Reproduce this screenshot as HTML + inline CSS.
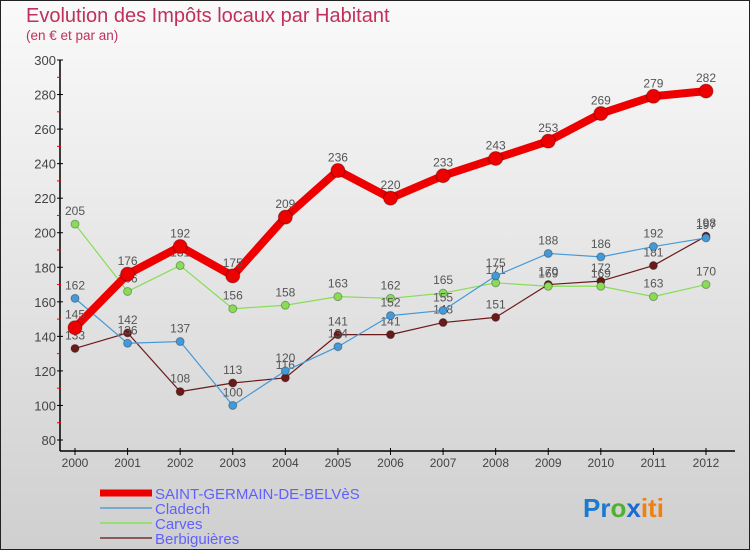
<!DOCTYPE html>
<html><head><meta charset="utf-8"><style>
body{margin:0;}
#wrap{width:750px;height:550px;position:relative;overflow:hidden;background:linear-gradient(#fafafa,#cfcfcf);font-family:"Liberation Sans",sans-serif;}
svg{position:absolute;left:0;top:0;}
</style></head><body>
<div id="wrap">
<svg id="chart" width="750" height="550">
<rect x="0.5" y="0.5" width="749" height="549" fill="none" stroke="#222"/>
<text x="26" y="22" font-size="20" fill="#c0305a">Evolution des Impôts locaux par Habitant</text>
<text x="26" y="40" font-size="13.5" fill="#c0305a">(en € et par an)</text>
<g id="axes"></g><g id="series"></g><g id="legend"></g>
<text x="583" y="517" font-size="26" font-weight="bold"><tspan fill="#1a7ad0">Pr</tspan><tspan fill="#50b030">o</tspan><tspan fill="#1a6ad0">x</tspan><tspan fill="#f08010">iti</tspan></text>
</svg>
</div>
<script>
const years=[2000,2001,2002,2003,2004,2005,2006,2007,2008,2009,2010,2011,2012];
const yTicks=[80,100,120,140,160,180,200,220,240,260,280,300];
const sgdb=[145,176,192,175,209,236,220,233,243,253,269,279,282];
const cladech=[162,136,137,100,120,134,152,155,175,188,186,192,197];
const carves=[205,166,181,156,158,163,162,165,171,169,169,163,170];
const berbig=[133,142,108,113,116,141,141,148,151,170,172,181,198];
const NS="http://www.w3.org/2000/svg";
function X(i){return 75+i*(706-75)/(years.length-1);}
function Y(v){return 440-(v-80)*(380/220);}
function mk(tag,attrs,parent){const e=document.createElementNS(NS,tag);for(const k in attrs)e.setAttribute(k,attrs[k]);parent.appendChild(e);return e;}
const ax=document.getElementById('axes');
let l=mk('line',{x1:60,y1:Y(300),x2:60,y2:451,stroke:'#000','stroke-width':1.5},ax);


l=mk('line',{x1:60,y1:451,x2:735,y2:451,stroke:'#000','stroke-width':1.5},ax);


yTicks.forEach((v,i)=>{
 mk('line',{x1:57,y1:Y(v),x2:63,y2:Y(v),stroke:'#000'},ax);
 if(i<yTicks.length-1)mk('line',{x1:57,y1:Y(v+10),x2:61,y2:Y(v+10),stroke:'#e00'},ax);
 const t=mk('text',{x:56,y:Y(v)+5,'font-size':13,'text-anchor':'end',fill:'#444'},ax);t.textContent=v;
 
 
});
years.forEach((y,i)=>{
 mk('line',{x1:X(i),y1:448,x2:X(i),y2:455,stroke:'#000'},ax);
 const t=mk('text',{x:X(i),y:467,'font-size':12,'text-anchor':'middle',fill:'#444'},ax);t.textContent=y;
 
 
});
const sg=document.getElementById('series');
function draw(data,color,w,r,name){
 const g=mk('g',{},sg);
 
 
 const p=mk('polyline',{points:data.map((v,i)=>X(i)+','+Y(v)).join(' '),fill:'none',stroke:color,'stroke-width':w,'stroke-linejoin':'round'},g);
 
 
 data.forEach((v,i)=>{
  const c=mk('circle',{cx:X(i),cy:Y(v),r:r,fill:color,stroke:'rgba(0,0,0,0.3)'},g);
  
  
  const t=mk('text',{x:X(i),y:Y(v)-9,'font-size':12,'text-anchor':'middle',fill:'#555'},g);t.textContent=v;
  
  
 });
}
draw(berbig,'#6b1a1a',1.2,4,'berbiguieres');
draw(carves,'#88dd55',1.2,4,'carves');
draw(cladech,'#4499d8',1.2,4,'cladech');
draw(sgdb,'#ee0000',8,7,'saint-germain');
const lg=document.getElementById('legend');
[['SAINT-GERMAIN-DE-BELVèS','#ee0000',7],['Cladech','#7aaad0',2],['Carves','#99dd77',2],['Berbiguières','#8a5a5a',2]].forEach((e,i)=>{
 const y=493+i*15;
 const ln=mk('line',{x1:100,y1:y,x2:152,y2:y,stroke:e[1],'stroke-width':e[2]},lg);
 
 
 const t=mk('text',{x:155,y:y+6,'font-size':15,fill:'#6060ff'},lg);t.textContent=e[0];
 
 
});
</script>
</body></html>
